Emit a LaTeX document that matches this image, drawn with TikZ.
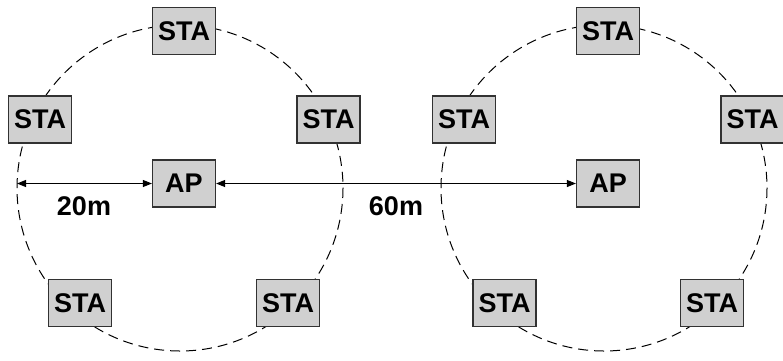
\documentclass[tikz,border=0pt]{standalone}
\usepackage{fontspec}
\setmainfont{Liberation Sans}
\usetikzlibrary{arrows.meta}
\definecolor{boxfill}{RGB}{208,208,208}
\definecolor{boxline}{RGB}{50,50,50}
\begin{document}
\begin{tikzpicture}[x=1pt,y=-1pt,
  dev/.style={draw=boxline,line width=1.2pt,fill=boxfill,minimum width=63pt,minimum height=47pt,inner sep=0pt,font=\fontsize{27}{27}\selectfont\bfseries},
  cellrange/.style={dashed,dash pattern=on 10pt off 6pt,line width=1pt},
  dist/.style={line width=1pt,{Triangle[length=9pt,width=7pt]}-{Triangle[length=9pt,width=7pt]}},
  lbl/.style={font=\fontsize{27}{27}\selectfont\bfseries,inner sep=0pt}]
\useasboundingbox (0,0) rectangle (783,360);
% coverage circles
\draw[cellrange] (180,188) circle (163);
\draw[cellrange] (604,188) circle (163);
\coordinate (edge1) at (17,183.5);
% left cell
\node[dev] (ap1) at (184,183.5) {AP};
\node[dev] (s1t) at (184,31) {STA};
\node[dev] (s1l) at (40,119.5) {STA};
\node[dev] (s1r) at (328.5,119.5) {STA};
\node[dev] (s1bl) at (80,303) {STA};
\node[dev] (s1br) at (288,303) {STA};
% right cell
\node[dev] (ap2) at (608,183.5) {AP};
\node[dev] (s2t) at (608,31) {STA};
\node[dev] (s2l) at (464,119.5) {STA};
\node[dev] (s2r) at (752.5,119.5) {STA};
\node[dev] (s2bl) at (504.5,303) {STA};
\node[dev] (s2br) at (712,303) {STA};
% distances
\draw[dist] (edge1) -- (ap1.west);
\draw[dist] (ap1.east) -- (ap2.west);
\node[lbl] (d20) at (84,206) {20m};
\node[lbl] (d60) at (396,206) {60m};
\end{tikzpicture}
\end{document}
